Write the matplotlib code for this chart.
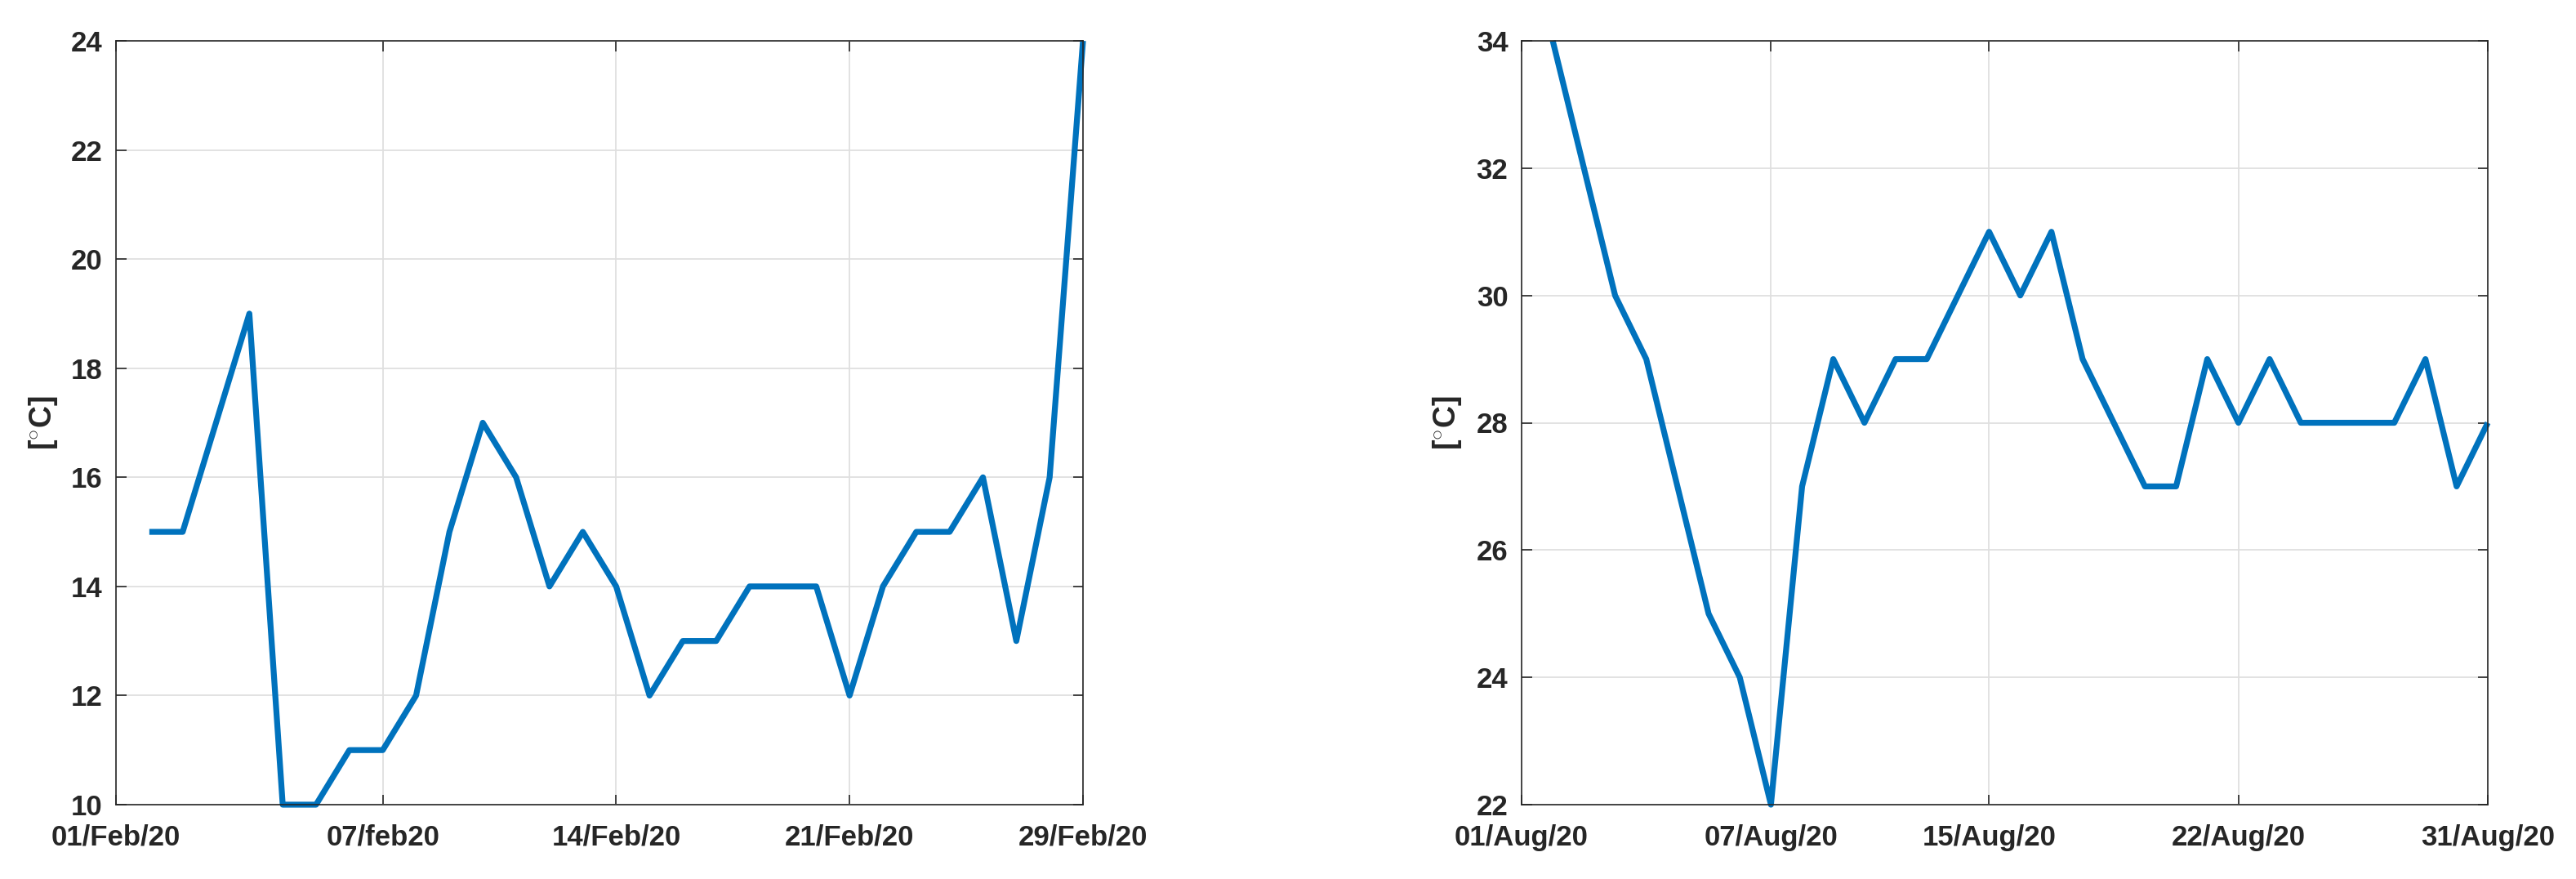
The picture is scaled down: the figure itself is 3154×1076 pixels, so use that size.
import numpy as np
import matplotlib
matplotlib.use("Agg")
import matplotlib.pyplot as plt

# ---- data ----
feb_temps = [15, 15, 17, 19, 10, 10, 11, 11, 12, 15, 17, 16, 14, 15, 14,
             12, 13, 13, 14, 14, 14, 12, 14, 15, 15, 16, 13, 16, 24]
aug_temps = [34, 32, 30, 29, 27, 25, 24, 22, 27, 29, 28, 29, 29, 30, 31,
             30, 31, 29, 28, 27, 27, 29, 28, 29, 28, 28, 28, 28, 29, 27, 28]
feb_tick_pos = [0, 8, 15, 22, 29]
feb_tick_labels = ["01/Feb/20", "07/feb20", "14/Feb/20", "21/Feb/20", "29/Feb/20"]
aug_tick_pos = [0, 8, 15, 23, 31]
aug_tick_labels = ["01/Aug/20", "07/Aug/20", "15/Aug/20", "22/Aug/20", "31/Aug/20"]
feb_yticks = [10, 12, 14, 16, 18, 20, 22, 24]
aug_yticks = [22, 24, 26, 28, 30, 32, 34]
ylabel_text = r"[$^{\circ}$C]"

plt.rcParams['font.family'] = ['Liberation Sans', 'DejaVu Sans']
plt.rcParams['font.weight'] = 'bold'
plt.rcParams['mathtext.fontset'] = 'custom'
plt.rcParams['mathtext.rm'] = 'Liberation Sans:bold'
plt.rcParams['mathtext.bf'] = 'Liberation Sans:bold'
plt.rcParams['mathtext.it'] = 'Liberation Sans:bold'
plt.rcParams['mathtext.default'] = 'bf'

W, H = 3154, 1076
DPI = 100
fig = plt.figure(figsize=(W / DPI, H / DPI), dpi=DPI)

TXT = '#262626'
LINE = '#0072BD'
GRID = '#DFDFDF'


def make_ax(left_px, right_px, top_px, bottom_px):
    return fig.add_axes([left_px / W, 1 - bottom_px / H,
                         (right_px - left_px) / W, (bottom_px - top_px) / H])


def style(ax, temps, xt, xl, yt, xmax, lab_x):
    x = np.arange(1, len(temps) + 1)
    ax.plot(x, temps, color=LINE, lw=5.2, clip_on=False, zorder=3,
            solid_joinstyle='round', solid_capstyle='butt')
    ax.set_xlim(0, xmax)
    ax.set_ylim(yt[0], yt[-1])
    ax.set_xticks(xt)
    ax.set_xticklabels(xl)
    ax.set_yticks(yt)
    ax.grid(True, color=GRID, lw=1.3, zorder=0)
    ax.set_axisbelow(True)
    for s in ax.spines.values():
        s.set_color(TXT)
        s.set_linewidth(1.2)
        s.set_zorder(4)
    ax.tick_params(axis='both', direction='in', length=9, width=1.2,
                   colors=TXT, labelsize=25, top=True, right=True)
    ax.tick_params(axis='x', pad=17)
    ax.tick_params(axis='y', pad=12)
    for t in ax.get_xticklabels() + ax.get_yticklabels():
        t.set_fontweight('bold')
    ax.set_ylabel(ylabel_text, fontsize=27, fontweight='bold', color=TXT)
    ax.yaxis.set_label_coords(lab_x, 0.5)


ax1 = make_ax(142, 1326, 50, 985)
style(ax1, feb_temps, feb_tick_pos, feb_tick_labels, feb_yticks, 29, -0.058)

ax2 = make_ax(1863, 3046, 50, 985)
style(ax2, aug_temps, aug_tick_pos, aug_tick_labels, aug_yticks, 31, -0.060)

fig.savefig("out.png", dpi=DPI, facecolor='white')
